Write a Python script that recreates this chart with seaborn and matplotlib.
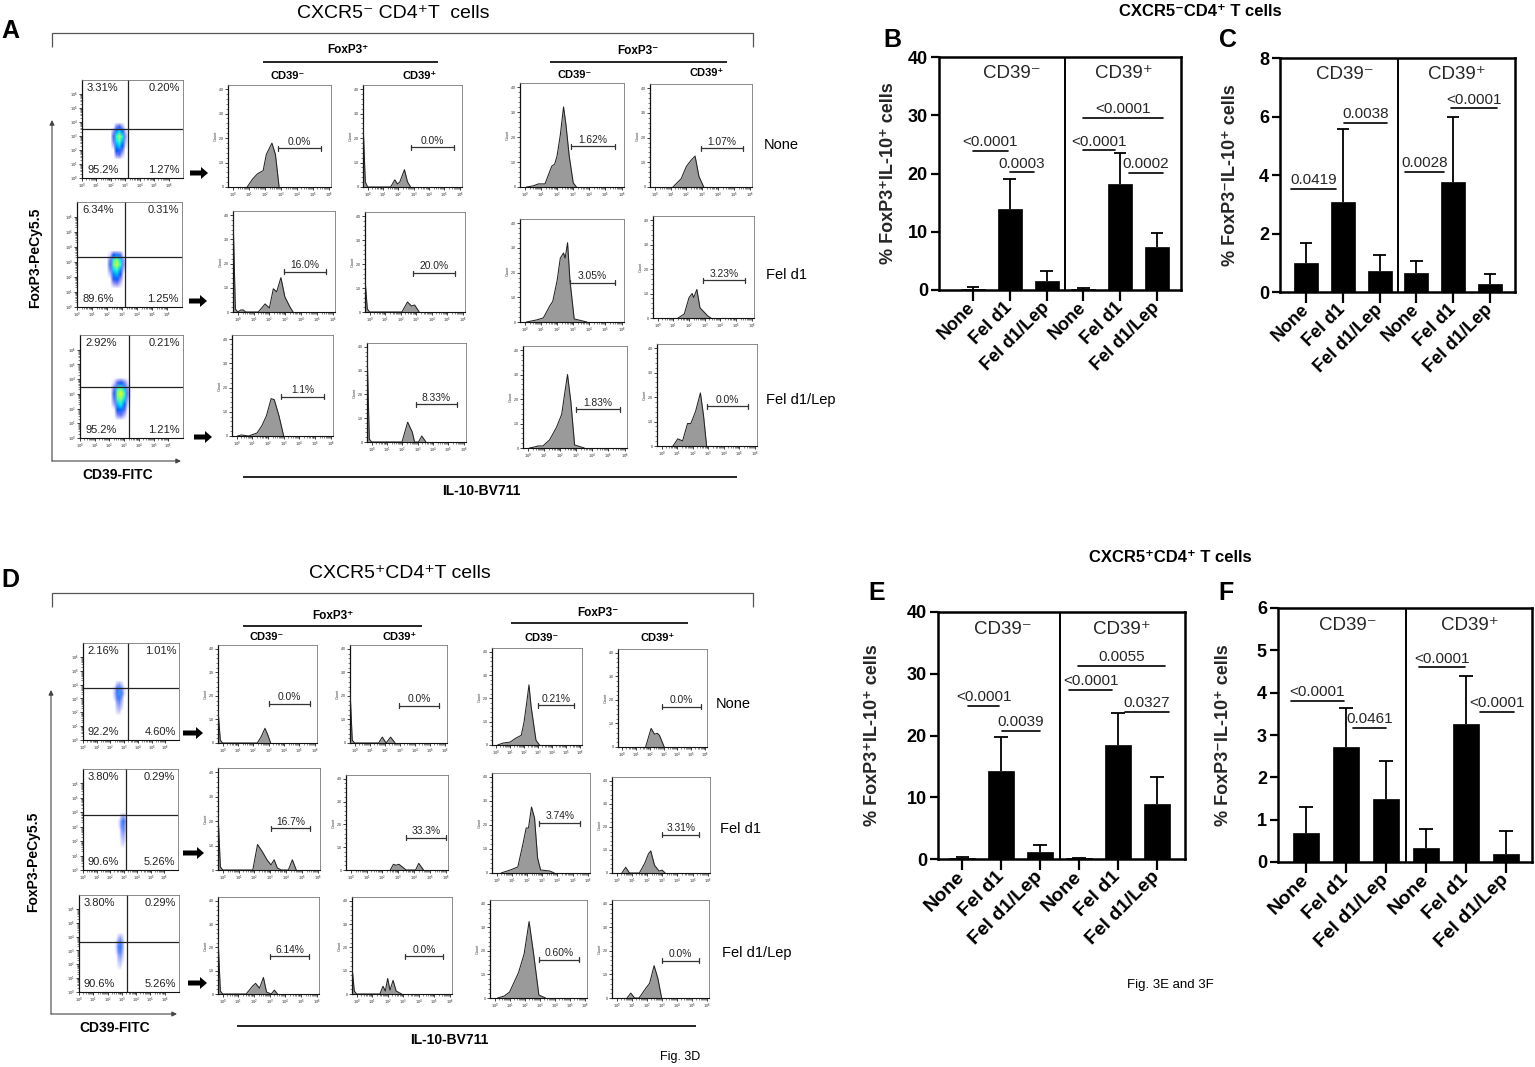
import numpy as np
import pandas as pd
import matplotlib
matplotlib.use('Agg')
import matplotlib.pyplot as plt
import seaborn as sns
from matplotlib.patches import FancyArrow

sns.set_theme(style='white')
FONT = ['Liberation Sans', 'DejaVu Sans']
plt.rcParams['font.family'] = FONT
plt.rcParams['axes.unicode_minus'] = False

W, H = 1535, 1067
fig = plt.figure(figsize=(W / 100, H / 100), dpi=100)
fig.patch.set_facecolor('white')

# ============================ DATA ============================
treatments = ['None', 'Fel d1', 'Fel d1/Lep']
groups = ['CD39⁻', 'CD39⁺']
row_labels = ['None', 'Fel d1', 'Fel d1/Lep']

# bar charts: mean and upper end of error bar (CD39- x3, CD39+ x3)
B_mean = [0.1, 13.9, 1.5, 0.1, 18.2, 7.3]
B_upper = [0.5, 19.1, 3.2, 0.4, 23.5, 9.8]
C_mean = [1.0, 3.07, 0.73, 0.66, 3.77, 0.27]
C_upper = [1.68, 5.56, 1.27, 1.07, 6.0, 0.63]
E_mean = [0.1, 14.3, 1.2, 0.1, 18.4, 8.9]
E_upper = [0.4, 19.8, 2.3, 0.2, 23.7, 13.2]
F_mean = [0.69, 2.72, 1.49, 0.34, 3.26, 0.2]
F_upper = [1.29, 3.63, 2.38, 0.79, 4.4, 0.73]

# significance brackets: (from category, to category, level, p-value)
B_sig = [(0.0, 0.95, 23.9, '<0.0001'), (1.0, 1.65, 20.2, '0.0003'),
         (3.0, 5.15, 29.5, '<0.0001'), (3.0, 3.85, 24.0, '<0.0001'),
         (4.25, 5.15, 20.1, '0.0002')]
C_sig = [(-0.4, 0.8, 3.52, '0.0419'), (1.03, 2.2, 5.78, '0.0038'),
         (2.7, 3.75, 4.1, '0.0028'), (3.95, 5.2, 6.28, '<0.0001')]
E_sig = [(0.15, 0.95, 24.8, '<0.0001'), (1.03, 2.0, 20.8, '0.0039'),
         (2.97, 5.2, 31.3, '0.0055'), (2.75, 3.85, 27.4, '<0.0001'),
         (4.18, 5.3, 23.8, '0.0327')]
F_sig = [(-0.37, 0.94, 3.8, '<0.0001'), (1.18, 2.0, 3.17, '0.0461'),
         (2.83, 3.98, 4.6, '<0.0001'), (4.35, 5.2, 3.55, '<0.0001')]

# dot plots: quadrant percentages (UL, UR, LL, LR)
dotA_pct = [['3.31%', '0.20%', '95.2%', '1.27%'],
            ['6.34%', '0.31%', '89.6%', '1.25%'],
            ['2.92%', '0.21%', '95.2%', '1.21%']]
dotD_pct = [['2.16%', '1.01%', '92.2%', '4.60%'],
            ['3.80%', '0.29%', '90.6%', '5.26%'],
            ['3.80%', '0.29%', '90.6%', '5.26%']]
# quadrant gate positions (log decades, CD39 / FoxP3)
dotA_gate = [(3.2, 3.5), (3.2, 3.36), (3.36, 3.5)]
dotD_gate = [(3.3, 3.78), (3.2, 3.78), (3.36, 3.64)]
# cell cloud: decade ranges (x0, x1, y0, y1) and coarse density grid (top row first)
dotA_range = [(2.1, 3.1, 1.5, 3.8), (2.1, 3.2, 1.4, 3.6), (2.2, 3.35, 1.4, 3.9)]
dotD_range = [(2.2, 3.05, 1.9, 4.1), (2.55, 3.3, 1.6, 3.8), (2.55, 3.3, 1.7, 4.1)]
dotA_density = [
    [[0.00, 0.08, 0.12, 0.05, 0.00], [0.06, 0.22, 0.30, 0.18, 0.03],
     [0.10, 0.35, 0.55, 0.32, 0.06], [0.08, 0.30, 0.42, 0.25, 0.04],
     [0.04, 0.22, 0.28, 0.15, 0.02], [0.00, 0.14, 0.18, 0.08, 0.00],
     [0.00, 0.07, 0.09, 0.03, 0.00]],
    [[0.02, 0.14, 0.20, 0.10, 0.00], [0.08, 0.36, 0.50, 0.30, 0.05],
     [0.10, 0.42, 0.58, 0.35, 0.06], [0.07, 0.30, 0.38, 0.22, 0.03],
     [0.03, 0.20, 0.25, 0.13, 0.00], [0.00, 0.12, 0.15, 0.07, 0.00],
     [0.00, 0.05, 0.07, 0.03, 0.00]],
    [[0.02, 0.10, 0.15, 0.08, 0.02], [0.08, 0.35, 0.45, 0.28, 0.05],
     [0.12, 0.48, 0.62, 0.40, 0.08], [0.09, 0.40, 0.50, 0.30, 0.05],
     [0.05, 0.26, 0.32, 0.18, 0.02], [0.00, 0.15, 0.18, 0.10, 0.00],
     [0.00, 0.07, 0.09, 0.04, 0.00]]]
dotD_density = [
    [[0.00, 0.06, 0.08, 0.04, 0.00], [0.04, 0.14, 0.20, 0.10, 0.02],
     [0.05, 0.16, 0.22, 0.12, 0.03], [0.03, 0.12, 0.15, 0.08, 0.00],
     [0.00, 0.08, 0.10, 0.05, 0.00], [0.00, 0.05, 0.07, 0.03, 0.00],
     [0.00, 0.03, 0.04, 0.00, 0.00]],
    [[0.00, 0.05, 0.08, 0.04, 0.00], [0.02, 0.10, 0.14, 0.08, 0.00],
     [0.02, 0.10, 0.12, 0.06, 0.00], [0.00, 0.07, 0.10, 0.05, 0.00],
     [0.00, 0.05, 0.07, 0.03, 0.00], [0.00, 0.03, 0.05, 0.02, 0.00],
     [0.00, 0.02, 0.03, 0.00, 0.00]],
    [[0.00, 0.04, 0.06, 0.03, 0.00], [0.02, 0.08, 0.12, 0.06, 0.00],
     [0.03, 0.12, 0.16, 0.08, 0.00], [0.02, 0.10, 0.12, 0.06, 0.00],
     [0.00, 0.06, 0.08, 0.04, 0.00], [0.00, 0.04, 0.05, 0.02, 0.00],
     [0.00, 0.02, 0.03, 0.00, 0.00]]]

# IL-10 histograms (row-major: None, Fel d1, Fel d1/Lep x FoxP3+CD39-, FoxP3+CD39+, FoxP3-CD39-, FoxP3-CD39+)
# x = log10 intensity, y = count relative to the plot height
histA_x = [
    [0.9, 1.25, 1.55, 1.9, 2.1, 2.45, 2.67, 2.9],
    [-0.3, -0.15, 0.0, 1.5, 1.77, 1.95, 2.1, 2.4, 2.6, 2.8],
    [0.1, 0.5, 0.85, 1.25, 1.67, 1.85, 2.0, 2.2, 2.4, 2.55, 2.75, 3.0, 3.2],
    [1.15, 1.67, 2.0, 2.3, 2.55, 2.8, 3.1],
    [-0.3, -0.15, 0.0, 0.2, 0.35, 0.5, 1.3, 1.73, 2.0, 2.25, 2.46, 2.73, 2.98, 3.3, 3.5],
    [-0.3, -0.15, 0.0, 2.08, 2.44, 2.7, 2.9, 3.2],
    [0.1, 0.73, 1.15, 1.56, 1.73, 2.0, 2.2, 2.4, 2.5, 2.65, 2.8, 3.06, 3.85],
    [1.3, 1.7, 2.0, 2.2, 2.3, 2.5, 2.7, 3.2, 3.4],
    [0.05, 0.3, 0.77, 1.3, 1.6, 1.9, 2.2, 2.4, 2.7, 3.0],
    [-0.3, -0.15, 0.0, 1.98, 2.35, 2.65, 2.8, 3.05, 3.27, 3.54],
    [0.1, 0.42, 0.63, 0.94, 1.35, 1.77, 2.1, 2.3, 2.46, 2.67, 2.9, 3.5],
    [0.73, 1.04, 1.35, 1.67, 1.88, 2.19, 2.5, 2.7, 2.9]]
histA_y = [
    [0, 0.08, 0.13, 0.16, 0.32, 0.43, 0.32, 0],
    [0.64, 0.05, 0, 0, 0.07, 0.03, 0.05, 0.17, 0.05, 0],
    [0, 0.01, 0.03, 0.03, 0.2, 0.22, 0.3, 0.5, 0.77, 0.6, 0.3, 0.04, 0],
    [0, 0.08, 0.2, 0.26, 0.3, 0.1, 0],
    [0.97, 0.03, 0, 0.02, 0.02, 0, 0, 0.08, 0.04, 0.23, 0.2, 0.34, 0.15, 0.05, 0],
    [0.33, 0.03, 0, 0, 0.1, 0.06, 0.07, 0],
    [0, 0.02, 0.04, 0.16, 0.2, 0.4, 0.62, 0.67, 0.62, 0.77, 0.4, 0.03, 0],
    [0, 0.04, 0.2, 0.24, 0.2, 0.28, 0.1, 0.02, 0],
    [0, 0.01, 0, 0.03, 0.1, 0.2, 0.37, 0.36, 0.2, 0],
    [0.95, 0.03, 0, 0, 0.2, 0.1, 0, 0, 0.06, 0],
    [0, 0.01, 0.02, 0.02, 0.08, 0.2, 0.33, 0.55, 0.72, 0.45, 0.03, 0],
    [0, 0.07, 0.05, 0.22, 0.22, 0.34, 0.52, 0.3, 0]]
histA_gate = [(2.8, 5.5), (2.83, 5.6), (2.85, 5.6), (2.9, 5.6),
              (2.9, 5.6), (2.8, 5.5), (2.8, 5.6), (2.9, 5.6),
              (2.85, 5.55), (2.9, 5.56), (3.0, 5.7), (2.9, 5.6)]
histA_pct = ['0.0%', '0.0%', '1.62%', '1.07%',
             '16.0%', '20.0%', '3.05%', '3.23%',
             '1.1%', '8.33%', '1.83%', '0.0%']

histD_x = [
    [-0.3, -0.15, 0.0, 2.26, 2.5, 2.76, 2.95, 3.13],
    [-0.3, -0.15, 0.0, 1.6, 1.85, 2.1, 2.4, 2.7],
    [0.1, 0.5, 1.0, 1.4, 1.8, 2.0, 2.2, 2.35, 2.5, 2.85, 3.1],
    [1.7, 2.1, 2.35, 2.55, 2.7, 3.05],
    [-0.3, -0.15, 0.0, 1.9, 2.2, 2.5, 2.8, 3.05, 3.25, 3.45, 3.7, 4.15, 4.4, 4.65],
    [2.5, 2.7, 2.85, 3.05, 3.2, 3.5, 4.1, 4.3, 4.6],
    [0.3, 0.9, 1.4, 1.75, 1.95, 2.1, 2.3, 2.5, 2.7, 2.9, 3.5, 3.8],
    [0.35, 0.6, 0.85, 1.5, 1.85, 2.1, 2.25, 2.5, 2.8, 3.0, 3.2],
    [-0.3, -0.15, 0.0, 1.5, 1.9, 2.1, 2.35, 2.6, 2.8, 3.1, 3.3, 3.5],
    [-0.3, -0.15, 0.0, 1.5, 1.7, 1.85, 2.0, 2.15, 2.35, 2.55, 2.9],
    [0.2, 0.65, 1.0, 1.6, 1.97, 2.3, 2.6, 2.95, 3.4],
    [0.7, 0.95, 1.2, 1.5, 1.95, 2.2, 2.5, 2.75, 3.0]]
histD_y = [
    [0.34, 0.03, 0, 0, 0.06, 0.15, 0.08, 0],
    [0.54, 0.03, 0, 0, 0.06, 0, 0.06, 0],
    [0, 0.02, 0.03, 0.07, 0.1, 0.24, 0.45, 0.62, 0.4, 0.05, 0],
    [0, 0.19, 0.13, 0.14, 0.12, 0],
    [0.56, 0.03, 0, 0, 0.25, 0.18, 0.1, 0.05, 0.1, 0.02, 0, 0, 0.1, 0],
    [0, 0.06, 0.05, 0.06, 0.04, 0, 0, 0.07, 0],
    [0, 0.03, 0.06, 0.3, 0.45, 0.45, 0.66, 0.55, 0.15, 0.03, 0.02, 0],
    [0, 0.06, 0, 0, 0.1, 0.2, 0.23, 0.08, 0.02, 0.03, 0],
    [0.58, 0.03, 0, 0, 0.08, 0.11, 0.06, 0.17, 0.02, 0, 0.04, 0],
    [0.28, 0.03, 0, 0, 0.08, 0.03, 0.16, 0.04, 0.14, 0.03, 0],
    [0, 0.02, 0.06, 0.26, 0.45, 0.78, 0.45, 0.03, 0],
    [0, 0.05, 0, 0, 0.1, 0.15, 0.33, 0.2, 0]]
histD_gate = [(3.0, 5.7), (2.95, 5.65), (3.0, 5.6), (2.9, 5.7),
              (3.05, 5.5), (3.5, 6.0), (2.8, 5.5), (3.0, 5.45),
              (3.05, 5.5), (3.1, 5.6), (2.95, 5.6), (3.0, 5.5)]
histD_pct = ['0.0%', '0.0%', '0.21%', '0.0%',
             '16.7%', '33.3%', '3.74%', '3.31%',
             '6.14%', '0.0%', '0.60%', '0.0%']

# ============================ LAYOUT (pixels) ============================
def add_ax(x0, y0, x1, y1, **kw):
    return fig.add_axes([x0 / W, 1 - y1 / H, (x1 - x0) / W, (y1 - y0) / H], **kw)

ov = fig.add_axes([0, 0, 1, 1], zorder=0)
ov.set_xlim(0, W)
ov.set_ylim(H, 0)
ov.axis('off')

dotA_rect = [(82, 80, 183, 178), (77, 202, 182, 307), (80, 335, 183, 438)]
dotD_rect = [(83, 643, 179, 740), (83, 769, 178, 870), (79, 895, 179, 992)]
histA_rect = [(228, 85, 331, 187), (363, 85, 462, 187), (520, 83, 624, 187), (650, 84, 752, 187),
              (233, 211, 335, 312), (365, 212, 465, 312), (520, 219, 624, 322), (653, 216, 754, 318),
              (232, 335, 333, 436), (367, 343, 466, 442), (523, 346, 627, 448), (657, 344, 757, 446)]
histD_rect = [(218, 645, 317, 743), (350, 645, 447, 743), (492, 648, 582, 745), (618, 649, 707, 747),
              (218, 768, 320, 870), (346, 775, 448, 870), (492, 773, 590, 873), (612, 777, 710, 873),
              (218, 897, 319, 994), (352, 897, 452, 994), (490, 900, 587, 998), (612, 900, 709, 998)]
histA_level = [0.38, 0.39, 0.39, 0.375, 0.40, 0.39, 0.38, 0.37, 0.39, 0.38, 0.38, 0.39]
histD_level = [0.40, 0.38, 0.41, 0.41, 0.41, 0.34, 0.50, 0.40, 0.39, 0.39, 0.39, 0.38]

DEC_TICKS = list(range(7))
DEC_MINOR = [k + np.log10(m) for k in range(6) for m in range(2, 10)]


def flow_style(ax, xlim, ylim, yt, ytl, ylabel=None):
    ax.set_xlim(*xlim)
    ax.set_ylim(*ylim)
    ax.set_facecolor('white')
    for s in ax.spines.values():
        s.set_color('#777777')
        s.set_linewidth(0.6)
    ax.spines['left'].set_color('#111111')
    ax.spines['left'].set_linewidth(0.9)
    ax.spines['bottom'].set_color('#111111')
    ax.spines['bottom'].set_linewidth(0.8)
    ax.set_xticks(DEC_TICKS)
    ax.set_xticklabels([f'$10^{k}$' for k in DEC_TICKS])
    ax.set_xticks(DEC_MINOR, minor=True)
    ax.set_yticks(yt)
    ax.set_yticklabels(ytl)
    ax.tick_params(which='major', bottom=True, left=True, direction='out', length=2.4,
                   width=0.6, pad=0.6, labelsize=2.6, colors='#222222')
    ax.tick_params(which='minor', bottom=True, left=True, direction='out', length=1.2,
                   width=0.4, colors='#222222')
    if ylabel:
        ax.set_ylabel(ylabel, fontsize=2.8, labelpad=1.0, color='#333333')


def draw_dot(rect, pct, gate, rng, dens, dim):
    ax = add_ax(*rect)
    d = np.pad(np.array(dens, dtype=float), 1)
    nr, nc = np.array(dens).shape
    cw = (rng[1] - rng[0]) / nc
    ch = (rng[3] - rng[2]) / nr
    ext = (rng[0] - cw, rng[1] + cw, rng[2] - ch, rng[3] + ch)
    cmap = plt.get_cmap('jet')
    if dim:
        rgba = cmap(0.13 + d * 0.55)
        rgba[..., 3] = np.clip(d / 0.14, 0, 1) * 0.8
    else:
        rgba = cmap(0.08 + d * 0.9)
        rgba[..., 3] = np.clip(d / 0.14, 0, 1)
    ax.imshow(rgba, extent=ext, origin='upper', interpolation='bilinear', aspect='auto', zorder=1)
    ax.axvline(gate[0], color='#222222', lw=0.9, zorder=2)
    ax.axhline(gate[1], color='#222222', lw=0.9, zorder=2)
    flow_style(ax, (0, 7), (0, 7), DEC_TICKS, [f'$10^{k}$' for k in DEC_TICKS])
    ax.set_yticks(DEC_MINOR, minor=True)
    kw = dict(transform=ax.transAxes, fontsize=8, color='#222222', zorder=3)
    ax.text(0.05, 0.97, pct[0], ha='left', va='top', **kw)
    ax.text(0.97, 0.97, pct[1], ha='right', va='top', **kw)
    ax.text(0.05, 0.03, pct[2], ha='left', va='bottom', **kw)
    ax.text(0.97, 0.03, pct[3], ha='right', va='bottom', **kw)


def draw_hist(rect, kx, ky, gate, level, label):
    ax = add_ax(*rect)
    ax.fill_between(kx, ky, 0, color='#9a9a9a', lw=0, zorder=2)
    ax.plot(kx, ky, color='#222222', lw=0.75, zorder=3)
    g0, g1 = gate
    ax.plot([g0, g1], [level, level], color='#333333', lw=0.9, zorder=3)
    for g in (g0, g1):
        ax.plot([g, g], [level - 0.025, level + 0.025], color='#333333', lw=0.9, zorder=3)
    ax.annotate(label, xy=((g0 + g1) / 2, level), xytext=(0, 1.2), textcoords='offset points',
                ha='center', va='bottom', fontsize=7.4, color='#222222')
    flow_style(ax, (-0.3, 6.15), (0, 1.0), [0, 0.24, 0.48, 0.72, 0.96],
               ['0', '1.0', '2.0', '3.0', '4.0'], ylabel='Count')
    ax.set_yticks(np.arange(0, 1.0, 0.048), minor=True)


for i in range(3):
    draw_dot(dotA_rect[i], dotA_pct[i], dotA_gate[i], dotA_range[i], dotA_density[i], False)
    draw_dot(dotD_rect[i], dotD_pct[i], dotD_gate[i], dotD_range[i], dotD_density[i], True)
for i in range(12):
    draw_hist(histA_rect[i], histA_x[i], histA_y[i], histA_gate[i], histA_level[i], histA_pct[i])
    draw_hist(histD_rect[i], histD_x[i], histD_y[i], histD_gate[i], histD_level[i], histD_pct[i])


# ---------------- bar charts ----------------
def draw_bars(rect, means, uppers, ymax, ystep, xlim, ylabel, lab_x, sig, tick_fs):
    ax = add_ax(*rect)
    cats = [f'{g} {t}' for g in groups for t in treatments]
    df = pd.DataFrame({'condition': cats, 'value': means})
    sns.barplot(data=df, x='condition', y='value', order=cats, color='black', saturation=1,
                width=0.65, errorbar=None, edgecolor='black', linewidth=0.5, ax=ax)
    xs = np.arange(len(cats))
    ax.vlines(xs, means, uppers, color='black', lw=1.3, zorder=3)
    ax.hlines(uppers, xs - 0.17, xs + 0.17, color='black', lw=1.3, zorder=3)
    ax.set_xlim(*xlim)
    ax.set_ylim(0, ymax)
    ax.axvline(2.5, color='black', lw=1.4)
    ax.set_yticks(np.arange(0, ymax + 0.001, ystep))
    ax.set_yticklabels([f'{v:g}' for v in np.arange(0, ymax + 0.001, ystep)],
                       fontweight='bold', fontsize=13)
    ax.set_xticks(range(6))
    ax.set_xticklabels(treatments * 2, rotation=45, ha='right', va='center',
                       rotation_mode='anchor', fontweight='bold', fontsize=tick_fs)
    ax.set_xlabel('')
    ax.set_ylabel(ylabel, fontweight='bold', fontsize=13)
    ax.yaxis.set_label_coords(lab_x, 0.5)
    for s in ax.spines.values():
        s.set_color('black')
        s.set_linewidth(1.8)
    ax.tick_params(axis='x', bottom=True, direction='out', length=8, width=1.6, pad=3, colors='black')
    ax.tick_params(axis='y', left=True, direction='out', length=6, width=1.6, pad=2, colors='black')
    ax.text(1.05, 0.93, groups[0], transform=ax.get_xaxis_transform(), ha='center', va='center', fontsize=13.5)
    ax.text(4.1, 0.93, groups[1], transform=ax.get_xaxis_transform(), ha='center', va='center', fontsize=13.5)
    for x0, x1, y, lab in sig:
        ax.plot([x0, x1], [y, y], color='black', lw=1.2, clip_on=False)
        ax.annotate(lab, xy=((x0 + x1) / 2, y), xytext=(0, 1.2), textcoords='offset points',
                    ha='center', va='bottom', fontsize=11, annotation_clip=False)
    return ax


draw_bars((939, 57, 1181, 290), B_mean, B_upper, 40, 10, (-0.92, 5.65),
          '% FoxP3⁺IL-10⁺ cells', -0.174, B_sig, 13)
draw_bars((1280, 58, 1515, 292), C_mean, C_upper, 8, 2, (-0.71, 5.68),
          '% FoxP3⁻IL-10⁺ cells', -0.174, C_sig, 13)
draw_bars((938, 612, 1185, 859), E_mean, E_upper, 40, 10, (-0.62, 5.72),
          '% FoxP3⁺IL-10⁺ cells', -0.23, E_sig, 14)
draw_bars((1278, 608, 1532, 862), F_mean, F_upper, 6, 1, (-0.7, 5.65),
          '% FoxP3⁻IL-10⁺ cells', -0.183, F_sig, 14)

# ---------------- annotations (overlay) ----------------
def t(x, y, s, fs, bold=False, ha='center', va='center', rot=0, color='black'):
    ov.text(x, y, s, fontsize=fs, fontweight='bold' if bold else 'normal', ha=ha, va=va,
            rotation=rot, color=color)


def line(xs, ys, lw=1.0, color='black'):
    ov.plot(xs, ys, color=color, lw=lw, solid_capstyle='butt')


def arrow(x0, x1, y):
    ov.add_patch(FancyArrow(x0, y, x1 - x0, 0, width=5, head_width=12, head_length=7,
                            length_includes_head=True, color='black', lw=0))


def axis_arrows(x, ytop, ybot, xright):
    kw = dict(arrowstyle='-|>', lw=0.8, color='#444444', mutation_scale=7, shrinkA=0, shrinkB=0)
    ov.annotate('', xy=(x, ytop), xytext=(x, ybot), arrowprops=kw)
    ov.annotate('', xy=(xright, ybot), xytext=(x, ybot), arrowprops=kw)


# panel letters and titles
t(10, 31, 'A', 18, True)
t(10, 580, 'D', 18, True)
t(892, 40, 'B', 18, True)
t(1228, 40, 'C', 18, True)
t(877, 593, 'E', 18, True)
t(1226, 593, 'F', 18, True)
t(393, 13, 'CXCR5⁻ CD4⁺T  cells', 14)
t(400, 573, 'CXCR5⁺CD4⁺T cells', 14)
t(1200, 12, 'CXCR5⁻CD4⁺ T cells', 12, True)
t(1170, 558, 'CXCR5⁺CD4⁺ T cells', 12, True)

for oy, rows_y, arrows_y, rl_x in [(0, [145, 275, 400], [(190, 208, 173), (189, 207, 301), (194, 212, 437)], [764, 766, 766]),
                                   (560, [704, 829, 953], [(183, 203, 733), (183, 204, 853), (188, 207, 983)], [716, 720, 722])]:
    for k in range(3):
        t(rl_x[k], rows_y[k], row_labels[k], 10.5, ha='left')
        a = arrows_y[k]
        arrow(a[0], a[1], a[2])

# brackets
line([52, 52, 753, 753], [47, 33, 33, 47], lw=0.9, color='#555555')
line([52, 52, 753, 753], [607, 593, 593, 607], lw=0.9, color='#555555')

# column headers A
t(348, 50, 'FoxP3⁺', 8.5, True)
line([263, 438], [62, 62], lw=1.2)
t(288, 76, 'CD39⁻', 8, True)
t(420, 76, 'CD39⁺', 8, True)
t(638, 51, 'FoxP3⁻', 8.5, True)
line([550, 727], [62, 62], lw=1.2)
t(575, 75, 'CD39⁻', 8, True)
t(707, 73, 'CD39⁺', 8, True)
# column headers D
t(333, 616, 'FoxP3⁺', 8.5, True)
line([243, 422], [626, 626], lw=1.2)
t(267, 637, 'CD39⁻', 8, True)
t(400, 637, 'CD39⁺', 8, True)
t(598, 613, 'FoxP3⁻', 8.5, True)
line([511, 688], [623, 623], lw=1.2)
t(542, 638, 'CD39⁻', 8, True)
t(658, 638, 'CD39⁺', 8, True)

# axes labels of the flow panels
axis_arrows(52, 120, 461, 181)
axis_arrows(51, 690, 1014, 177)
t(35, 258, 'FoxP3-PeCy5.5', 10, True, rot=90)
t(33, 862, 'FoxP3-PeCy5.5', 10, True, rot=90)
t(118, 475, 'CD39-FITC', 10, True)
t(115, 1028, 'CD39-FITC', 10, True)
line([243, 737], [477, 477], lw=1.2)
t(481, 491, 'IL-10-BV711', 10, True)
line([237, 696], [1026, 1026], lw=1.2)
t(449, 1040, 'IL-10-BV711', 10, True)
t(680, 1057, 'Fig. 3D', 9)
t(1170, 985, 'Fig. 3E and 3F', 9.5)

fig.savefig('out.png', dpi=100, facecolor='white')
